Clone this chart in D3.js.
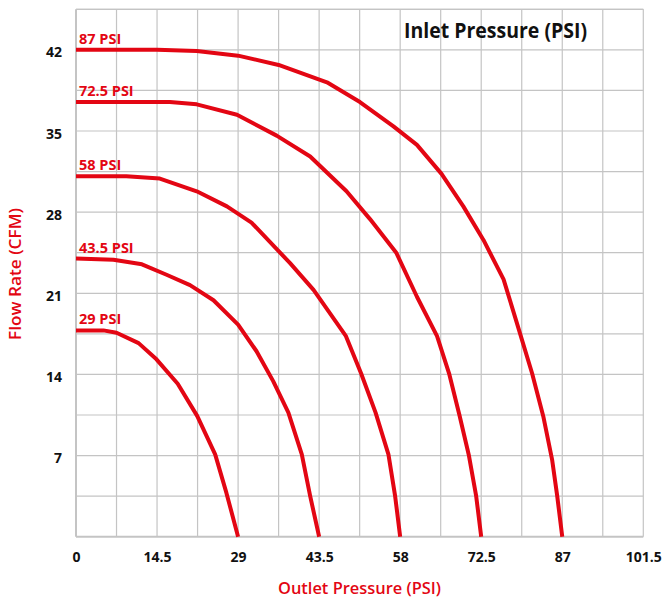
<!DOCTYPE html>
<html><head><meta charset="utf-8">
<script src="https://cdn.jsdelivr.net/npm/d3@7"></script>
<style>html,body{margin:0;padding:0;background:#fff;}svg{display:block;}</style>
</head><body>
<svg id="chart" width="662" height="598"></svg>
<script>
// ---- data ----
const inletPressures = [29, 43.5, 58, 72.5, 87];
const seriesLabels = ["29 PSI", "43.5 PSI", "58 PSI", "72.5 PSI", "87 PSI"];

const outlet29 = [0, 4.9, 7.25, 11.2, 14.4, 18.2, 21.7, 24.9, 26.9, 29];
const flow29   = [17.8, 17.8, 17.6, 16.7, 15.3, 13.2, 10.4, 7.1, 3.8, 0];

const outlet43 = [0, 6.7, 11.8, 16.2, 20.4, 24.6, 29, 32.3, 35.3, 38, 40.4, 41.9, 43.5];
const flow43   = [24, 23.9, 23.5, 22.6, 21.7, 20.4, 18.3, 16.0, 13.4, 10.7, 7.1, 3.5, 0];

const outlet58 = [0, 9, 15, 21.6, 27, 31.4, 38.3, 42.5, 48.3, 51, 53.6, 55.9, 57.1, 58];
const flow58   = [31.1, 31.1, 30.9, 29.8, 28.5, 27.1, 23.6, 21.3, 17.3, 14.1, 10.7, 7.1, 3.5, 0];

const outlet72 = [0, 9, 16.8, 21.6, 28.8, 35.9, 41.9, 48.4, 52.6, 57.3, 61, 64.6, 66.8, 68.6, 70.3, 71.6, 72.5];
const flow72   = [37.5, 37.5, 37.5, 37.3, 36.4, 34.6, 32.8, 29.8, 27.4, 24.5, 20.7, 17.3, 14, 10.5, 7, 3.5, 0];

const outlet87 = [0, 7.25, 14.5, 21.6, 29, 36.25, 44.9, 50.8, 56.8, 61, 65.4, 69.3, 72.9, 76.5, 78.9, 81.6, 83.6, 85.2, 86.1, 87];
const flow87   = [42, 42, 42, 41.9, 41.5, 40.7, 39.2, 37.5, 35.4, 33.8, 31.3, 28.5, 25.6, 22.2, 18.4, 14.1, 10.4, 6.6, 3.5, 0];

const xTickLabels = [0, 14.5, 29, 43.5, 58, 72.5, 87, 101.5];
const yTickLabels = [7, 14, 21, 28, 35, 42];
const xGridValues = d3.range(0, 15).map(i => i * 7.25);
const yGridValues = d3.range(0, 14).map(i => i * 3.5);
const xDomain = [0, 101.5];
const yDomain = [0, 45.5];

const chartTitle = "Inlet Pressure (PSI)";
const xTitle = "Outlet Pressure (PSI)";
const yTitle = "Flow Rate (CFM)";

// ---- layout ----
const RED = "#e30613";
const FONT = "'Open Sans', Lato, sans-serif";
const m = {left: 76, right: 662 - 643.3, top: 9.3, bottom: 598 - 536.7};
const W = 662, H = 598;
const svg = d3.select("#chart");
svg.append("rect").attr("width", W).attr("height", H).attr("fill", "#fff");

const x = d3.scaleLinear().domain(xDomain).range([m.left, W - m.right]);
const y = d3.scaleLinear().domain(yDomain).range([H - m.bottom, m.top]);

// grid
const grid = svg.append("g");
grid.selectAll("line.v").data(xGridValues).join("line")
  .attr("x1", d => x(d)).attr("x2", d => x(d))
  .attr("y1", y(yDomain[0])).attr("y2", y(yDomain[1]))
  .attr("stroke", "#c4c4c4").attr("stroke-width", d => (d === 0 ? 2 : 1.2));
grid.selectAll("line.h").data(yGridValues.concat([yDomain[1]])).join("line")
  .attr("y1", d => y(d)).attr("y2", d => y(d))
  .attr("x1", x(xDomain[0])).attr("x2", x(xDomain[1]))
  .attr("stroke", "#c4c4c4").attr("stroke-width", d => (d === 0 ? 2 : 1.2));

// axes labels via d3 axes (no lines)
const xAxis = d3.axisBottom(x).tickValues(xTickLabels).tickSize(0).tickPadding(0)
  .tickFormat(d => String(d));
const gx = svg.append("g").attr("transform", `translate(0,${y(0)})`).call(xAxis);
gx.select(".domain").remove();
gx.selectAll("text").attr("dy", null).attr("y", 25)
  .attr("font-family", FONT).attr("font-weight", 700).attr("font-size", 14).attr("fill", "#111");

const yAxis = d3.axisLeft(y).tickValues(yTickLabels).tickSize(0).tickPadding(0)
  .tickFormat(d => String(d));
const gy = svg.append("g").attr("transform", `translate(${x(0)},0)`).call(yAxis);
gy.select(".domain").remove();
gy.selectAll("text").attr("dy", null).attr("x", -14).attr("y", 7)
  .attr("font-family", FONT).attr("font-weight", 700).attr("font-size", 14).attr("fill", "#111");

// curves
const seriesData = [
  d3.zip(outlet29, flow29),
  d3.zip(outlet43, flow43),
  d3.zip(outlet58, flow58),
  d3.zip(outlet72, flow72),
  d3.zip(outlet87, flow87)
];
const line = d3.line().x(d => x(d[0])).y(d => y(d[1])).curve(d3.curveLinear);
svg.append("g").selectAll("path").data(seriesData).join("path")
  .attr("d", line).attr("fill", "none").attr("stroke", RED)
  .attr("stroke-width", 4).attr("stroke-linejoin", "round");

// series labels
svg.append("g").selectAll("text").data(seriesData).join("text")
  .attr("x", d => x(d[0][0]) + 3)
  .attr("y", d => y(d[0][1]) - 6)
  .attr("font-family", FONT).attr("font-weight", 700).attr("font-size", 14.5)
  .attr("fill", RED)
  .text((d, i) => seriesLabels[i]);

// titles
svg.append("text").attr("x", 404).attr("y", 38.3)
  .attr("font-family", FONT).attr("font-weight", 700).attr("font-size", 20.5)
  .attr("textLength", 183).attr("lengthAdjust", "spacingAndGlyphs")
  .attr("fill", "#111").text(chartTitle);

svg.append("text").attr("x", 278).attr("y", 594)
  .attr("font-family", FONT).attr("font-weight", 600)
  .attr("font-size", 16).attr("textLength", 163).attr("lengthAdjust", "spacingAndGlyphs")
  .attr("fill", RED).text(xTitle);

svg.append("text")
  .attr("transform", `translate(21,340) rotate(-90)`)
  .attr("font-family", FONT).attr("font-weight", 600)
  .attr("font-size", 16).attr("textLength", 132).attr("lengthAdjust", "spacingAndGlyphs")
  .attr("fill", RED).text(yTitle);
</script>
</body></html>
